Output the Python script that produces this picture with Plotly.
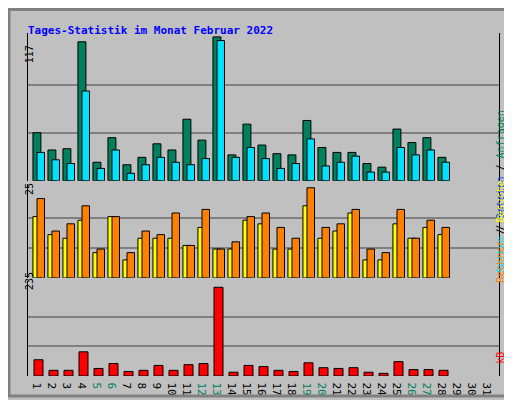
import plotly.graph_objects as go

days = list(range(1, 32))
anfragen = [39, 25, 26, 113, 15, 35, 13, 19, 30, 25, 50, 33, 117, 21, 46, 29, 22, 21, 49, 27, 23, 23, 14, 11, 42, 31, 35, 19]
seiten = [23, 17, 14, 73, 10, 25, 6, 13, 19, 15, 13, 18, 114, 19, 27, 18, 10, 14, 34, 12, 15, 20, 7, 7, 27, 21, 25, 15]
besuche = [17, 12, 11, 16, 7, 17, 5, 11, 11, 11, 9, 14, 8, 8, 16, 15, 8, 8, 20, 11, 13, 18, 5, 5, 15, 11, 14, 12]
rechner = [22, 13, 15, 20, 8, 17, 7, 13, 12, 18, 9, 19, 8, 10, 17, 18, 14, 11, 25, 14, 15, 19, 8, 7, 19, 11, 16, 14]
kb = [43, 15, 15, 64, 20, 33, 12, 15, 28, 15, 30, 33, 235, 10, 28, 25, 15, 12, 35, 22, 20, 22, 10, 7, 38, 17, 17, 15]
weekend = [5, 6, 12, 13, 19, 20, 26, 27]
max_top, max_mid, max_bot = 117, 25, 235

W, H = 512, 400
L, R, T, B = 20, 21, 25, 22
ph = H - T - B
def py(px):
    return (H - B - px) / ph

fig = go.Figure()
x = days[:len(anfragen)]
def bars(y, color, yax, off, w):
    fig.add_trace(go.Bar(x=x, y=y, xaxis="x", yaxis=yax, marker=dict(color=color, line=dict(color="black", width=1)),
                         offset=off, width=w, showlegend=False, hoverinfo="skip"))
bars(anfragen, "#00805C", "y", -0.39, 0.53)
bars(seiten, "#00E0FF", "y", -0.12, 0.5)
bars(besuche, "#FFFF00", "y2", -0.39, 0.53)
bars(rechner, "#FF8000", "y2", -0.12, 0.5)
bars(kb, "#FF0000", "y3", -0.32, 0.6)

font = "DejaVu Sans Mono"
ticktext = [f"<span style='color:#00805C'>{d}</span>" if d in weekend else str(d) for d in days]
yc = dict(showticklabels=False, gridcolor="#808080", gridwidth=1.5, zeroline=False,
          showline=True, linecolor="black", mirror=True, ticks="", anchor="x")
fig.update_layout(
    width=W, height=H, margin=dict(l=L, r=R, t=T, b=B),
    paper_bgcolor="#C0C0C0", plot_bgcolor="#C0C0C0", barmode="overlay",
    font=dict(family=font, size=11, color="black"),
    xaxis=dict(range=[0.28, 31.68], tickvals=days, ticktext=ticktext, showgrid=False, anchor="y3",
               showline=False, ticks="", tickfont=dict(size=11)),
    yaxis=dict(domain=[py(177), 1], range=[0, max_top * 152 / 148],
               tickvals=[max_top / 3, max_top * 2 / 3], **yc),
    yaxis2=dict(domain=[py(277), py(180)], range=[0, max_mid * 97 / 92.7],
                tickvals=[max_mid / 3, max_mid * 2 / 3], **yc),
    yaxis3=dict(domain=[0, py(280)], range=[0, max_bot * 98 / 91.3],
                tickvals=[max_bot / 3, max_bot * 2 / 3], **yc),
)
ann = [
    dict(x=18, y=14, text="<b>Tages-Statistik im Monat Februar 2022</b>", font=dict(color="#0000FF", size=11), xanchor="left"),
    dict(x=14, y=36, text=str(max_top), textangle=-90),
    dict(x=14, y=186, text=str(max_mid), textangle=-90),
    dict(x=14, y=292, text=str(max_bot), textangle=-90),
    dict(x=500, y=102, textangle=-90, text="<span style='color:#00E0FF'>Seiten</span> / <span style='color:#0040FF'>Dateien</span> / <span style='color:#00805C'>Anfragen</span>"),
    dict(x=500, y=230, textangle=-90, text="<span style='color:#FF8000'>Rechner</span> / <span style='color:#FFFF00'>Besuche</span>"),
    dict(x=500, y=368, textangle=-90, text="<span style='color:#FF0000'>kB</span>"),
]
for a in ann:
    a.setdefault("font", {})
    a["font"].setdefault("size", 10)
    fig.add_annotation(xref="paper", yref="paper", x=(a.pop("x") - L) / (W - L - R),
                       y=py(a.pop("y")), showarrow=False, **a)
fig.add_shape(type="rect", xref="paper", yref="paper", x0=-L / (W - L - R) + 0.002, x1=1 + R / (W - L - R) - 0.004,
              y0=-B / ph + 0.004, y1=1 + T / ph - 0.002, line=dict(color="#808080", width=3))
fig.write_html("out.html")
